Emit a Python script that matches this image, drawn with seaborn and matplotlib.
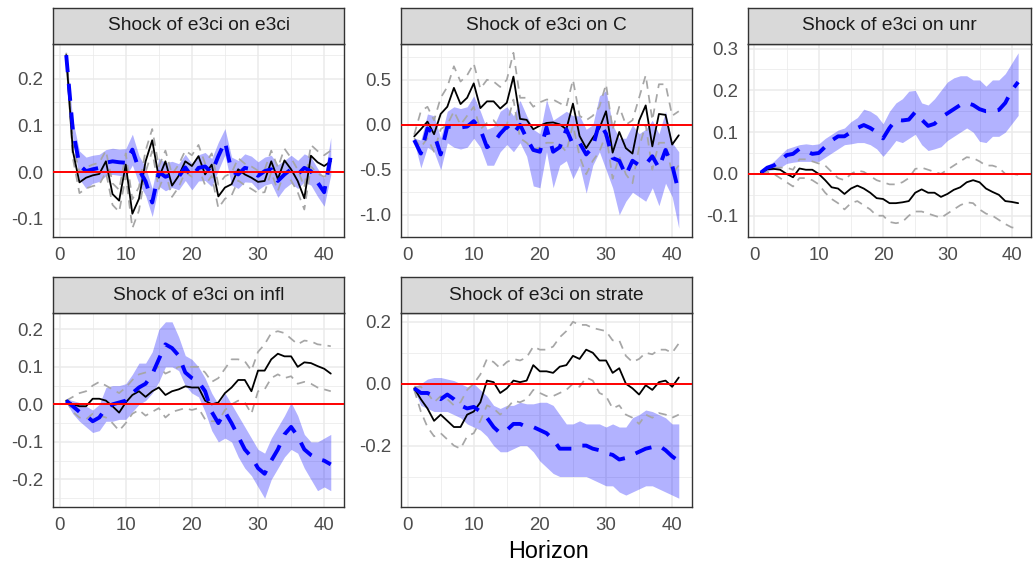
import matplotlib
matplotlib.use("Agg")
import matplotlib.pyplot as plt
import numpy as np
import pandas as pd
import seaborn as sns

# ---------------- data ----------------
horizon = list(range(1, 42))

titles = ["Shock of e3ci on e3ci", "Shock of e3ci on C", "Shock of e3ci on unr",
          "Shock of e3ci on infl", "Shock of e3ci on strate"]

# Panel 1: e3ci on e3ci
e3ci_blue = [0.25, 0.09, 0.015, 0.002, 0.006, 0.009, 0.02, 0.023, 0.021, 0.02,
             0.048, 0.005, -0.02, -0.065, 0.0, -0.01, -0.005, -0.01, 0.01, -0.01,
             0.009, 0.012, -0.001, 0.034, 0.065, 0.002, -0.005, 0.009, 0.006, -0.008,
             0.002, 0.006, -0.019, -0.005, 0.006, -0.005, 0.009, 0.002, -0.022, -0.043,
             0.034]
e3ci_blue_lo = [0.245, 0.07, -0.015, -0.035, -0.024, -0.02, -0.008, -0.005, -0.007, -0.01,
                0.015, -0.025, -0.05, -0.095, -0.03, -0.04, -0.033, -0.038, -0.018, -0.038,
                -0.019, -0.018, -0.031, 0.004, 0.037, -0.028, -0.035, -0.021, -0.022, -0.038,
                -0.028, -0.024, -0.054, -0.035, -0.024, -0.035, -0.021, -0.028, -0.052, -0.073,
                -0.006]
e3ci_blue_hi = [0.255, 0.11, 0.045, 0.032, 0.036, 0.038, 0.048, 0.051, 0.049, 0.05,
                0.081, 0.035, 0.01, -0.035, 0.03, 0.02, 0.023, 0.018, 0.038, 0.018,
                0.037, 0.042, 0.029, 0.064, 0.093, 0.032, 0.025, 0.039, 0.034, 0.022,
                0.032, 0.036, 0.016, 0.025, 0.036, 0.025, 0.039, 0.032, 0.008, -0.013,
                0.074]
e3ci_black = [0.25, 0.045, -0.022, -0.012, -0.007, -0.004, 0.023, -0.047, -0.061, 0.016,
              -0.089, -0.057, 0.023, 0.068, -0.012, 0.023, -0.029, -0.008, 0.023, 0.013,
              0.034, -0.005, 0.016, -0.052, -0.033, -0.026, 0.006, -0.005, -0.012, -0.021,
              -0.019, 0.023, -0.015, 0.025, 0.006, -0.019, -0.056, 0.035, 0.021, 0.013,
              0.023]
e3ci_grey_lo = [0.245, 0.03, -0.045, -0.035, -0.03, -0.027, 0.0, -0.07, -0.085, -0.008,
                -0.12, -0.082, 0.0, 0.045, -0.036, 0.0, -0.053, -0.032, 0.0, -0.01,
                0.01, -0.028, -0.008, -0.077, -0.057, -0.05, -0.018, -0.028, -0.036, -0.045,
                -0.043, 0.0, -0.04, 0.0, -0.018, -0.043, -0.08, 0.012, -0.003, -0.01,
                0.0]
e3ci_grey_hi = [0.255, 0.06, 0.0, 0.01, 0.016, 0.02, 0.046, -0.024, -0.038, 0.04,
                -0.058, -0.032, 0.046, 0.092, 0.012, 0.046, -0.005, 0.016, 0.046, 0.036,
                0.058, 0.018, 0.04, -0.027, -0.009, -0.002, 0.03, 0.018, 0.012, 0.003,
                0.005, 0.046, 0.01, 0.05, 0.03, 0.005, -0.032, 0.058, 0.045, 0.036,
                0.046]

# Panel 2: e3ci on C
C_blue = [-0.17, -0.32, -0.04, -0.1, -0.33, -0.02, -0.03, -0.03, -0.02, 0.04,
          -0.05, -0.25, -0.2, -0.1, -0.02, -0.1, 0.0, -0.15, -0.28, -0.3,
          -0.03, -0.3, -0.25, -0.05, -0.22, -0.2, -0.33, -0.25, 0.03, -0.1,
          -0.37, -0.4, -0.56, -0.4, -0.45, -0.44, -0.35, -0.48, -0.28, -0.45,
          -0.75]
C_blue_lo = [-0.19, -0.48, -0.25, -0.3, -0.5, -0.2, -0.25, -0.27, -0.25, -0.15,
             -0.25, -0.45, -0.45, -0.3, -0.22, -0.3, -0.2, -0.35, -0.68, -0.7,
             -0.3, -0.7, -0.45, -0.4, -0.6, -0.45, -0.76, -0.45, -0.3, -0.5,
             -0.7, -1.0, -0.85, -0.75, -0.8, -0.85, -0.7, -0.9, -0.65, -0.8,
             -1.15]
C_blue_hi = [-0.15, -0.17, 0.12, 0.1, -0.15, 0.15, 0.2, 0.18, 0.2, 0.32,
             0.15, -0.05, -0.02, 0.15, 0.2, 0.1, 0.27, 0.1, -0.05, -0.1,
             0.28, 0.05, 0.1, 0.15, 0.1, 0.1, -0.05, 0.0, 0.32, 0.38,
             0.0, -0.15, -0.15, 0.0, -0.1, -0.05, 0.05, -0.1, 0.15, -0.2,
             -0.3]
C_black = [-0.13, -0.05, 0.035, -0.105, 0.12, 0.2, 0.41, 0.23, 0.3, 0.46,
           0.185, 0.26, 0.26, 0.18, 0.245, 0.535, 0.065, 0.055, -0.05, -0.01,
           0.02, 0.026, 0.004, -0.05, 0.235, -0.125, -0.26, -0.145, -0.04, 0.15,
           -0.31, -0.08, -0.26, -0.32, 0.045, 0.215, -0.24, 0.12, 0.11, -0.22,
           -0.117]
C_grey_lo = [-0.15, -0.25, -0.15, -0.3, -0.05, 0.0, 0.15, 0.0, 0.1, 0.2,
             -0.05, 0.02, 0.05, -0.05, 0.0, 0.28, -0.15, -0.2, -0.28, -0.25,
             -0.2, -0.2, -0.22, -0.3, 0.0, -0.35, -0.55, -0.4, -0.3, -0.1,
             -0.6, -0.35, -0.55, -0.65, -0.25, 0.0, -0.5, -0.2, -0.2, -0.55,
             -0.45]
C_grey_hi = [-0.11, 0.15, 0.2, 0.05, 0.3, 0.42, 0.65, 0.48, 0.55, 0.68,
             0.4, 0.5, 0.48, 0.42, 0.5, 0.8, 0.3, 0.3, 0.2, 0.25,
             0.28, 0.28, 0.24, 0.2, 0.5, 0.1, 0.05, 0.1, 0.2, 0.45,
             -0.05, 0.2, 0.0, 0.05, 0.3, 0.55, 0.05, 0.45, 0.45, 0.1,
             0.15]

# Panel 3: e3ci on unr
unr_blue = [0.003, 0.015, 0.02, 0.03, 0.045, 0.048, 0.06, 0.055, 0.048, 0.05,
            0.065, 0.08, 0.09, 0.09, 0.1, 0.11, 0.117, 0.11, 0.1, 0.085,
            0.11, 0.13, 0.128, 0.13, 0.148, 0.13, 0.115, 0.12, 0.135, 0.145,
            0.155, 0.165, 0.17, 0.165, 0.155, 0.15, 0.15, 0.153, 0.17, 0.2,
            0.22]
unr_blue_lo = [0.003, 0.008, 0.01, 0.015, 0.025, 0.028, 0.03, 0.03, 0.03, 0.03,
               0.04, 0.05, 0.06, 0.07, 0.072, 0.075, 0.075, 0.07, 0.06, 0.042,
               0.06, 0.08, 0.075, 0.085, 0.095, 0.07, 0.056, 0.06, 0.065, 0.08,
               0.09, 0.1, 0.11, 0.1, 0.078, 0.075, 0.09, 0.09, 0.1, 0.12,
               0.14]
unr_blue_hi = [0.003, 0.02, 0.03, 0.045, 0.06, 0.065, 0.07, 0.072, 0.07, 0.072,
               0.085, 0.095, 0.105, 0.11, 0.125, 0.135, 0.155, 0.15, 0.14, 0.12,
               0.15, 0.17, 0.18, 0.198, 0.2, 0.17, 0.165, 0.18, 0.2, 0.22,
               0.23, 0.235, 0.235, 0.225, 0.225, 0.21, 0.225, 0.225, 0.24, 0.265,
               0.29]
unr_black = [0.003, 0.011, 0.012, 0.01, 0.0, -0.008, 0.013, 0.01, 0.01, 0.0,
             -0.015, -0.032, -0.035, -0.048, -0.035, -0.028, -0.035, -0.045, -0.058, -0.06,
             -0.07, -0.07, -0.068, -0.065, -0.045, -0.037, -0.045, -0.045, -0.055, -0.048,
             -0.038, -0.032, -0.02, -0.015, -0.02, -0.035, -0.043, -0.05, -0.065, -0.067,
             -0.07]
unr_grey_lo = [0.003, 0.005, 0.0, -0.01, -0.02, -0.03, -0.01, -0.01, -0.015, -0.025,
               -0.045, -0.06, -0.07, -0.085, -0.07, -0.065, -0.075, -0.085, -0.1, -0.1,
               -0.115, -0.118, -0.115, -0.1, -0.09, -0.09, -0.095, -0.1, -0.105, -0.095,
               -0.085, -0.075, -0.068, -0.07, -0.085, -0.095, -0.1, -0.11, -0.12, -0.128,
               -0.13]
unr_grey_hi = [0.003, 0.012, 0.015, 0.015, 0.015, 0.01, 0.035, 0.035, 0.03, 0.025,
               0.02, 0.005, -0.01, -0.015, 0.0, 0.008, 0.005, -0.005, -0.015, -0.02,
               -0.025, -0.025, -0.02, -0.01, 0.012, 0.015, 0.01, 0.005, 0.0, 0.01,
               0.02, 0.03, 0.04, 0.038, 0.03, 0.02, 0.02, 0.015, 0.0, 0.0,
               -0.002]

# Panel 4: e3ci on infl
infl_blue = [0.01, -0.005, -0.02, -0.03, -0.045, -0.035, -0.01, 0.0, 0.005, 0.01,
             0.03, 0.045, 0.055, 0.08, 0.12, 0.16, 0.15, 0.13, 0.085, 0.07,
             0.06, 0.035, -0.02, -0.05, -0.02, -0.05, -0.085, -0.12, -0.14, -0.17,
             -0.185, -0.15, -0.12, -0.08, -0.06, -0.085, -0.12, -0.135, -0.145, -0.15,
             -0.16]
infl_blue_lo = [0.005, -0.025, -0.045, -0.06, -0.075, -0.07, -0.045, -0.045, -0.04, -0.04,
                -0.02, 0.0, 0.01, 0.03, 0.06, 0.1, 0.1, 0.09, 0.05, 0.03,
                0.02, -0.02, -0.07, -0.1, -0.09, -0.1, -0.14, -0.17, -0.19, -0.22,
                -0.25, -0.2, -0.17, -0.14, -0.12, -0.13, -0.17, -0.2, -0.23, -0.22,
                -0.23]
infl_blue_hi = [0.015, 0.01, 0.005, -0.005, -0.015, 0.0, 0.045, 0.05, 0.05, 0.055,
                0.08, 0.11, 0.11, 0.14, 0.2, 0.22, 0.22, 0.18, 0.13, 0.12,
                0.1, 0.07, 0.03, 0.0, 0.03, 0.0, -0.03, -0.06, -0.09, -0.12,
                -0.13, -0.09, -0.06, -0.03, 0.005, -0.03, -0.08, -0.1, -0.1, -0.09,
                -0.08]
infl_black = [0.01, 0.0, -0.005, -0.005, 0.015, 0.015, 0.01, -0.005, -0.022, 0.005,
              0.025, 0.035, 0.02, 0.035, 0.045, 0.025, 0.035, 0.04, 0.048, 0.045,
              0.045, 0.01, 0.0, 0.005, 0.03, 0.045, 0.065, 0.065, 0.035, 0.09,
              0.09, 0.12, 0.135, 0.128, 0.128, 0.1, 0.112, 0.11, 0.102, 0.095,
              0.082]
infl_grey_lo = [0.01, -0.02, -0.035, -0.04, -0.025, -0.03, -0.035, -0.05, -0.07, -0.05,
                -0.025, -0.015, -0.03, -0.02, -0.01, -0.035, -0.02, -0.015, -0.01, -0.015,
                -0.01, -0.04, -0.045, -0.045, -0.015, 0.0, 0.01, 0.005, -0.025, 0.035,
                0.04, 0.07, 0.08, 0.07, 0.075, 0.055, 0.06, 0.055, 0.045, 0.04,
                0.035]
infl_grey_hi = [0.01, 0.02, 0.03, 0.035, 0.05, 0.06, 0.05, 0.04, 0.03, 0.045,
                0.065, 0.08, 0.085, 0.09, 0.1, 0.082, 0.09, 0.1, 0.1, 0.1,
                0.1, 0.085, 0.06, 0.07, 0.095, 0.12, 0.12, 0.115, 0.09, 0.14,
                0.16, 0.19, 0.195, 0.19, 0.175, 0.16, 0.17, 0.168, 0.16, 0.158,
                0.155]

# Panel 5: e3ci on strate
strate_blue = [-0.015, -0.03, -0.03, -0.04, -0.05, -0.035, -0.05, -0.07, -0.08, -0.075,
               -0.09, -0.11, -0.14, -0.16, -0.15, -0.13, -0.13, -0.14, -0.14, -0.15,
               -0.16, -0.18, -0.21, -0.21, -0.21, -0.2, -0.2, -0.21, -0.215, -0.225,
               -0.23, -0.245, -0.24, -0.23, -0.22, -0.21, -0.205, -0.2, -0.215, -0.235,
               -0.25]
strate_blue_lo = [-0.02, -0.07, -0.08, -0.09, -0.09, -0.09, -0.1, -0.11, -0.13, -0.14,
                  -0.15, -0.17, -0.2, -0.22, -0.22, -0.21, -0.2, -0.2, -0.22, -0.25,
                  -0.27, -0.29, -0.3, -0.3, -0.3, -0.3, -0.3, -0.31, -0.32, -0.33,
                  -0.33, -0.35, -0.36, -0.35, -0.34, -0.33, -0.33, -0.34, -0.35, -0.36,
                  -0.37]
strate_blue_hi = [-0.01, 0.0, 0.015, 0.02, 0.02, 0.015, 0.01, 0.0, -0.01, 0.0,
                  -0.02, -0.04, -0.07, -0.08, -0.07, -0.07, -0.06, -0.065, -0.065, -0.06,
                  -0.06, -0.07, -0.1, -0.13, -0.13, -0.12, -0.13, -0.13, -0.13, -0.14,
                  -0.13, -0.14, -0.14, -0.11, -0.1, -0.085, -0.09, -0.1, -0.11, -0.13,
                  -0.13]
strate_black = [-0.015, -0.05, -0.08, -0.12, -0.1, -0.12, -0.14, -0.14, -0.1, -0.09,
                -0.06, 0.01, 0.005, -0.03, -0.015, 0.01, 0.005, 0.01, 0.06, 0.04,
                0.04, 0.035, 0.055, 0.06, 0.09, 0.08, 0.11, 0.1, 0.075, 0.075,
                0.035, 0.05, 0.0, -0.015, -0.035, -0.005, -0.02, 0.005, 0.01, -0.01,
                0.02]
strate_grey_lo = [-0.02, -0.09, -0.14, -0.17, -0.16, -0.18, -0.2, -0.21, -0.17, -0.16,
                  -0.12, -0.07, -0.08, -0.1, -0.08, -0.055, -0.06, -0.05, -0.02, -0.03,
                  -0.04, -0.04, -0.03, -0.02, 0.0, -0.01, 0.02, 0.01, -0.03, -0.04,
                  -0.08, -0.07, -0.1, -0.11, -0.13, -0.1, -0.11, -0.095, -0.1, -0.11,
                  -0.1]
strate_grey_hi = [-0.01, -0.01, -0.03, -0.06, -0.04, -0.05, -0.07, -0.06, -0.02, 0.0,
                  0.03, 0.08, 0.07, 0.05, 0.07, 0.08, 0.075, 0.085, 0.12, 0.11,
                  0.11, 0.12, 0.15, 0.17, 0.2, 0.19, 0.19, 0.18, 0.175, 0.17,
                  0.14, 0.14, 0.09, 0.07, 0.08, 0.1, 0.095, 0.11, 0.11, 0.1,
                  0.13]

x_ticks = [0, 10, 20, 30, 40]
y_ticks = [
    [-0.1, 0.0, 0.1, 0.2],
    [-1.0, -0.5, 0.0, 0.5],
    [-0.1, 0.0, 0.1, 0.2, 0.3],
    [-0.2, -0.1, 0.0, 0.1, 0.2],
    [-0.2, 0.0, 0.2],
]
zero_line = 0.0
x_label = "Horizon"

panels = [
    (e3ci_blue, e3ci_blue_lo, e3ci_blue_hi, e3ci_black, e3ci_grey_lo, e3ci_grey_hi),
    (C_blue, C_blue_lo, C_blue_hi, C_black, C_grey_lo, C_grey_hi),
    (unr_blue, unr_blue_lo, unr_blue_hi, unr_black, unr_grey_lo, unr_grey_hi),
    (infl_blue, infl_blue_lo, infl_blue_hi, infl_black, infl_grey_lo, infl_grey_hi),
    (strate_blue, strate_blue_lo, strate_blue_hi, strate_black, strate_grey_lo, strate_grey_hi),
]

# ---------------- style ----------------
sns.set_theme(style="white")
plt.rcParams["font.family"] = ["Liberation Sans", "DejaVu Sans"]
plt.rcParams["axes.unicode_minus"] = False

W, H = 1035, 566
fig = plt.figure(figsize=(W / 100, H / 100), dpi=100)
fig.patch.set_facecolor("white")

# panel boxes in pixels: (left, right, top, bottom)
boxes = [
    (53, 344, 44, 237),
    (401, 692, 44, 237),
    (748, 1031, 44, 237),
    (53, 344, 313, 507),
    (401, 692, 313, 507),
]
strip_h = 36

GRID = "#EBEBEB"
DARK = "#333333"
TICKC = "#4D4D4D"


def frac(l, r, t, b):
    return [l / W, 1 - b / H, (r - l) / W, (b - t) / H]


def fmt(v):
    s = f"{v:.1f}"
    return "0.0" if s == "-0.0" else s


for i, (box, data) in enumerate(zip(boxes, panels)):
    l, r, t, b = box
    ax = fig.add_axes(frac(l, r, t, b))
    blue, blo, bhi, black, glo, ghi = data
    df = pd.DataFrame({"h": horizon, "blue": blue, "black": black,
                       "glo": glo, "ghi": ghi})

    ax.fill_between(horizon, blo, bhi, color="blue", alpha=0.3, lw=0, zorder=2)
    sns.lineplot(data=df, x="h", y="glo", ax=ax, color="#A6A6A6", lw=1.25,
                 linestyle=(0, (4.8, 3.6)), errorbar=None, zorder=3)
    sns.lineplot(data=df, x="h", y="ghi", ax=ax, color="#A6A6A6", lw=1.25,
                 linestyle=(0, (4.8, 3.6)), errorbar=None, zorder=3)
    sns.lineplot(data=df, x="h", y="black", ax=ax, color="black", lw=1.3,
                 errorbar=None, zorder=4)
    sns.lineplot(data=df, x="h", y="blue", ax=ax, color="blue", lw=2.8,
                 linestyle=(0, (4.4, 3.0)), errorbar=None, zorder=5)
    ax.axhline(zero_line, color="red", lw=1.4, zorder=6)

    # limits like ggplot (5% expansion)
    allv = blue + blo + bhi + black + glo + ghi
    lo, hi = min(allv), max(allv)
    pad = (hi - lo) * 0.05
    ax.set_ylim(lo - pad, hi + pad)
    xpad = (max(horizon) - min(horizon)) * 0.05
    ax.set_xlim(min(horizon) - xpad, max(horizon) + xpad)

    yt = y_ticks[i]
    ax.set_yticks(yt)
    ax.set_yticklabels([fmt(v) for v in yt])
    ax.set_xticks(x_ticks)
    ax.set_xticklabels([str(v) for v in x_ticks])
    step = yt[1] - yt[0]
    ymin, ymax = ax.get_ylim()
    yminor = [yt[0] - step / 2] + [v + step / 2 for v in yt]
    yminor = [v for v in yminor if ymin <= v <= ymax]
    ax.set_yticks(yminor, minor=True)
    ax.set_xticks([5, 15, 25, 35], minor=True)

    ax.grid(which="major", color=GRID, lw=1.1, zorder=0)
    ax.grid(which="minor", color=GRID, lw=0.55, zorder=0)
    ax.set_axisbelow(True)
    ax.tick_params(which="major", length=4.1, width=1.0, color=DARK,
                   labelsize=13.4, labelcolor=TICKC, pad=3.0)
    ax.tick_params(which="minor", length=0)
    for s in ax.spines.values():
        s.set_color(DARK)
        s.set_linewidth(1.0)
    ax.set_xlabel("")
    ax.set_ylabel("")
    ax.set_facecolor("white")

    # strip
    sax = fig.add_axes(frac(l, r, t - strip_h, t))
    sax.set_facecolor("#D9D9D9")
    sax.set_xticks([])
    sax.set_yticks([])
    for s in sax.spines.values():
        s.set_color(DARK)
        s.set_linewidth(1.0)
    sax.text(0.5, 0.5, titles[i], ha="center", va="center", fontsize=13.8,
             color="#1A1A1A", transform=sax.transAxes)

fig.text(548 / W, 1 - 551 / H, x_label, ha="center", va="center",
         fontsize=16.8, color="black")

fig.savefig("out.png", dpi=100, facecolor="white")
